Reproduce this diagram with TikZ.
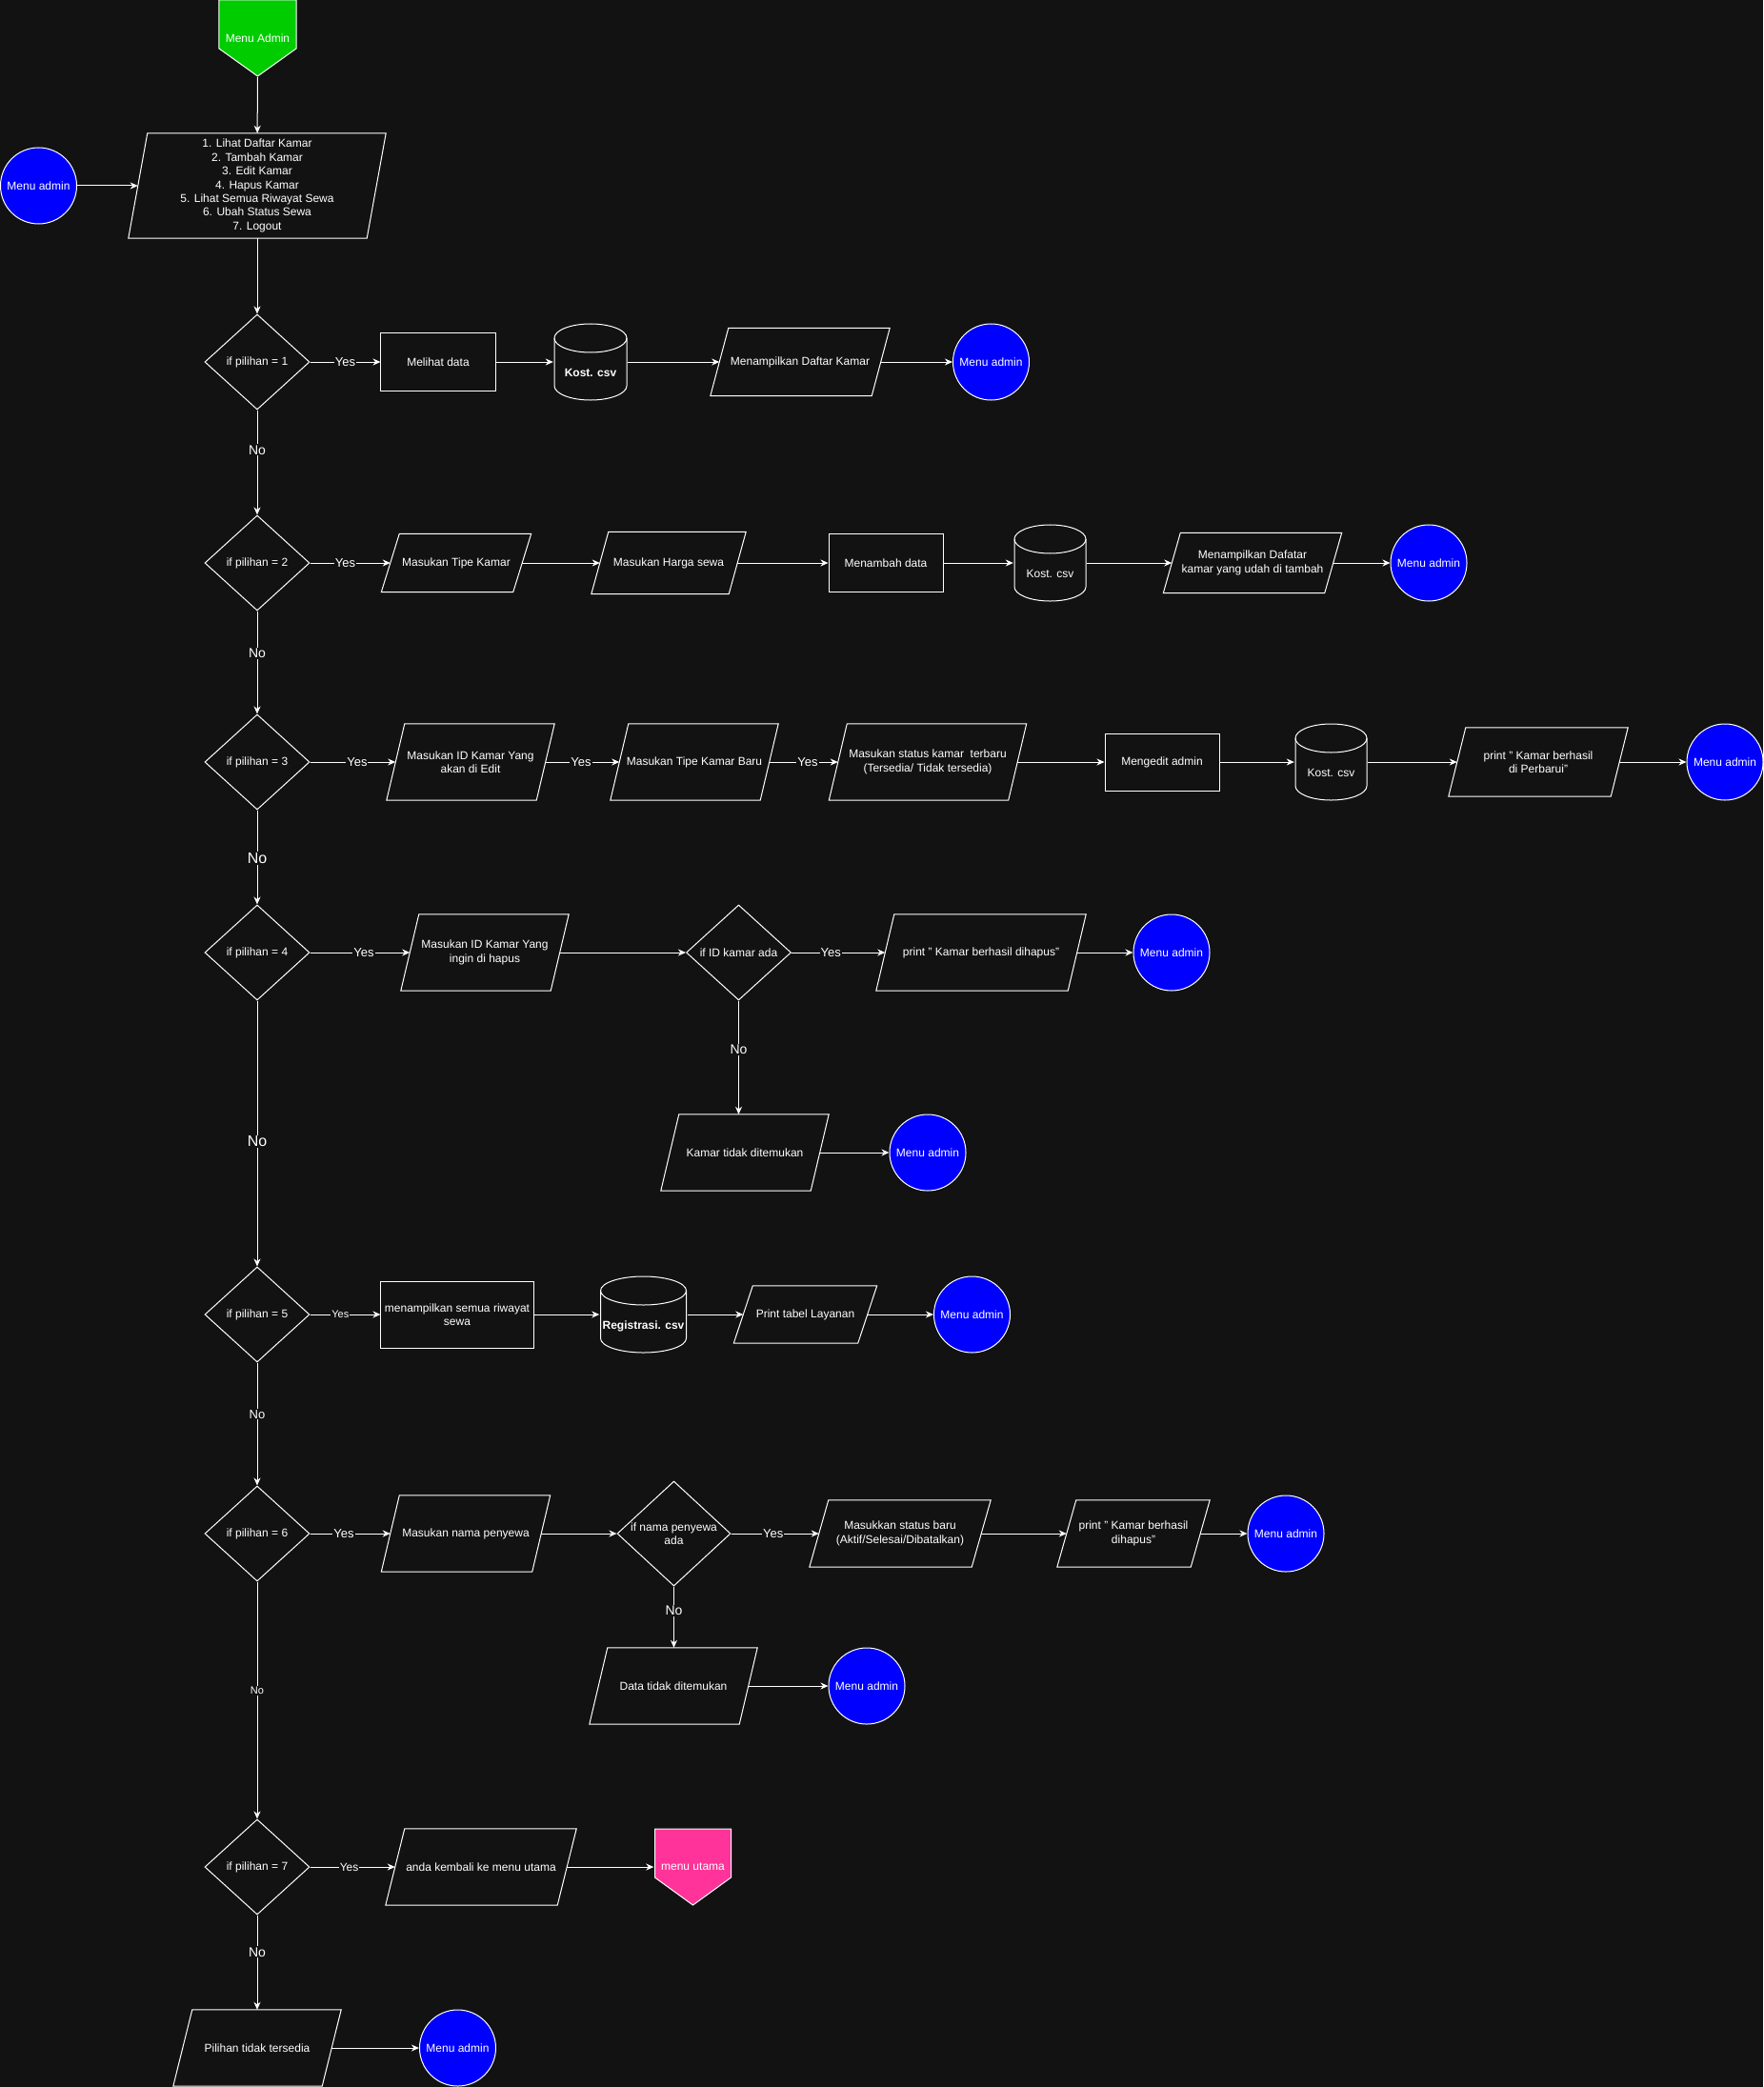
\documentclass[tikz,border=0pt]{standalone}
\usepackage{fontspec}
\setmainfont{Liberation Sans}
\usetikzlibrary{shapes.geometric,arrows.meta}

\definecolor{bgdark}{HTML}{121212}
\definecolor{startgreen}{HTML}{00CC00}
\definecolor{adminblue}{HTML}{0000FF}
\definecolor{utamapink}{HTML}{FF3399}

\tikzset{
  every node/.style={text=white, font=\fontsize{12}{14.4}\selectfont, align=center},
  flowline/.style={draw=white, line width=1pt},
  arr/.style={flowline, -{Stealth[length=8pt,width=7pt,inset=2.5pt]}},
  proc/.style={rectangle, flowline, minimum width=120pt, minimum height=60pt, inner sep=2pt},
  io/.style={rectangle, inner sep=2pt,
    append after command={\pgfextra{\draw [flowline]
      ([xshift=#1/2]\tikzlastnode.north west) -- ([xshift=#1/2]\tikzlastnode.north east)
      -- ([xshift=-#1/2]\tikzlastnode.south east) -- ([xshift=-#1/2]\tikzlastnode.south west) -- cycle;}}},
  io/.default=19pt,
  cond/.style={diamond, flowline, minimum width=110pt, minimum height=100pt, inner sep=0pt, aspect=1.1},
  admin/.style={circle, flowline, fill=adminblue, minimum size=80pt, inner sep=0pt},
  offpage/.style={minimum width=83pt, minimum height=82pt, inner sep=0pt,
    path picture={\draw [flowline, fill=#1]
      ([shift={(1pt,-1pt)}]path picture bounding box.north west)
      -- ([shift={(-1pt,-1pt)}]path picture bounding box.north east)
      -- ([shift={(-1pt,30pt)}]path picture bounding box.south east)
      -- ([shift={(0pt,1pt)}]path picture bounding box.south)
      -- ([shift={(1pt,30pt)}]path picture bounding box.south west) -- cycle;}},
  db/.style={minimum width=#1+2pt, minimum height=82pt, inner sep=0pt, text height=33pt, text depth=3pt,
    path picture={
      \draw [flowline] ([shift={(1pt,-16pt)}]path picture bounding box.north west)
        arc [start angle=180, end angle=0, x radius=#1/2, y radius=15pt]
        -- ++(0pt,-50pt)
        arc [start angle=0, end angle=-180, x radius=#1/2, y radius=15pt] -- cycle;
      \draw [flowline] ([shift={(1pt,-16pt)}]path picture bounding box.north west)
        arc [start angle=180, end angle=360, x radius=#1/2, y radius=15pt];}},
  lbl/.style={fill=bgdark, inner sep=1pt, font=\fontsize{#1}{#1}\selectfont},
  lbl/.default=13
}

\begin{document}
\begin{tikzpicture}
    \def\x{0.035146}
    \def\y{-0.035146}
    \fill [bgdark] (0,0) rectangle (1851*\x, 2191*\y);
    \useasboundingbox (0,0) rectangle (1851*\x, 2191*\y);

    \node [offpage=startgreen] (A0_0) at (270.5*\x, 40*\y) {Menu Admin};
    \node [io=20pt, minimum width=250pt, minimum height=110pt] (A0_1) at (270*\x, 195*\y)
      {1. Lihat Daftar Kamar\\2. Tambah Kamar\\3. Edit Kamar\\4. Hapus Kamar\\5. Lihat Semua Riwayat Sewa\\6. Ubah Status Sewa\\7. Logout};
    \node [admin] (A0_2) at (40.5*\x, 195*\y) {Menu admin};

    \node [cond] (A1_0) at (270*\x, 380*\y) {if pilihan = 1};
    \node [proc] (A1_1) at (460*\x, 380*\y) {Melihat data};
    \node [db=76pt] (A1_2) at (620*\x, 380*\y) {\textbf{Kost. csv}};
    \node [io, minimum width=169pt, minimum height=71pt] (A1_3) at (840*\x, 380*\y) {Menampilkan Daftar Kamar};
    \node [admin] (A1_4) at (1040.5*\x, 380*\y) {Menu admin};

    \node [cond] (A2_0) at (270*\x, 591*\y) {if pilihan = 2};
    \node [io, minimum width=138pt, minimum height=61pt] (A2_1) at (479*\x, 591*\y) {Masukan Tipe Kamar};
    \node [io=18pt, minimum width=144pt, minimum height=65pt] (A2_2) at (702*\x, 591*\y) {Masukan Harga sewa};
    \node [proc] (A2_3) at (930*\x, 591*\y) {Menambah data};
    \node [db=75pt] (A2_4) at (1102.5*\x, 591*\y) {Kost. csv};
    \node [io=18pt, minimum width=169pt, minimum height=63pt] (A2_5) at (1315*\x, 591*\y) {Menampilkan Dafatar\\kamar yang udah di tambah};
    \node [admin] (A2_6) at (1500*\x, 591*\y) {Menu admin};

    \node [cond] (A3_0) at (270*\x, 800*\y) {if pilihan = 3};
    \node [io, minimum width=157pt, minimum height=80pt] (A3_1) at (494*\x, 800*\y) {Masukan ID Kamar Yang\\akan di Edit};
    \node [io, minimum width=157pt, minimum height=80pt] (A3_2) at (729*\x, 800*\y) {Masukan Tipe Kamar Baru};
    \node [io, minimum width=188pt, minimum height=80pt] (A3_3) at (974*\x, 800*\y) {Masukan status kamar\ \ terbaru\\(Tersedia/ Tidak tersedia)};
    \node [proc] (A3_4) at (1220*\x, 800*\y) {Mengedit admin};
    \node [db=75pt] (A3_5) at (1397.5*\x, 800*\y) {Kost. csv};
    \node [io=18pt, minimum width=170pt, minimum height=72pt] (A3_6) at (1615*\x, 800*\y) {print " Kamar berhasil\\di Perbarui"};
    \node [admin] (A3_7) at (1811*\x, 800*\y) {Menu admin};

    \node [cond] (A4_0) at (270*\x, 1000*\y) {if pilihan = 4};
    \node [io, minimum width=157pt, minimum height=80pt] (A4_1) at (509*\x, 1000*\y) {Masukan ID Kamar Yang\\ingin di hapus};
    \node [cond] (A4_2) at (775.5*\x, 1000*\y) {if ID kamar ada};
    \node [io, minimum width=201pt, minimum height=80pt] (A4_3) at (1030*\x, 1000*\y) {print " Kamar berhasil dihapus"};
    \node [admin] (A4_4) at (1230*\x, 1000*\y) {Menu admin};
    \node [io, minimum width=157pt, minimum height=80pt] (B4_1) at (782*\x, 1210*\y) {Kamar tidak ditemukan};
    \node [admin] (B4_2) at (974*\x, 1210*\y) {Menu admin};

    \node [cond] (A5_0) at (270*\x, 1380*\y) {if pilihan = 5};
    \node [proc, minimum width=160pt, minimum height=70pt] (A5_1) at (480*\x, 1380*\y) {menampilkan semua riwayat\\sewa};
    \node [db=90pt] (A5_2) at (675.5*\x, 1380*\y) {\textbf{Registrasi. csv}};
    \node [io=20pt, minimum width=130pt, minimum height=60pt] (A5_3) at (845.5*\x, 1380*\y) {Print tabel Layanan};
    \node [admin] (A5_4) at (1020.5*\x, 1380*\y) {Menu admin};

    \node [cond] (A6_0) at (270*\x, 1610*\y) {if pilihan = 6};
    \node [io, minimum width=158pt, minimum height=80pt] (A6_1) at (489*\x, 1610*\y) {Masukan nama penyewa};
    \node [cond, minimum width=119pt, minimum height=110pt] (A6_2) at (707.5*\x, 1610*\y) {if nama penyewa\\ada};
    \node [io=20pt, minimum width=170pt, minimum height=70pt] (A6_3) at (945*\x, 1610*\y) {Masukkan status baru\\(Aktif/Selesai/Dibatalkan)};
    \node [io=20pt, minimum width=140pt, minimum height=70pt] (A6_4) at (1190*\x, 1610*\y) {print " Kamar berhasil\\dihapus"};
    \node [admin] (A6_5) at (1350*\x, 1610*\y) {Menu admin};
    \node [io, minimum width=157pt, minimum height=80pt] (B6_1) at (707*\x, 1770*\y) {Data tidak ditemukan};
    \node [admin] (B6_2) at (910*\x, 1770*\y) {Menu admin};

    \node [cond] (A7_0) at (270*\x, 1960*\y) {if pilihan = 7};
    \node [io=20pt, minimum width=180pt, minimum height=80pt] (A7_1) at (505*\x, 1960*\y) {anda kembali ke menu utama};
    \node [offpage=utamapink, minimum width=82pt] (A7_2) at (727.5*\x, 1960*\y) {menu utama};
    \node [io=20pt, minimum width=156pt, minimum height=80pt] (B7_1) at (270*\x, 2150*\y) {Pilihan tidak tersedia};
    \node [admin] (B7_2) at (480.5*\x, 2150*\y) {Menu admin};

    \path (A0_0) edge [arr] (A0_1)
          (A0_2) edge [arr] (A0_1)
          (A0_1) edge [arr] (A1_0);

    \path (A1_0) edge [arr] node [lbl, pos=0.5] {Yes} (A1_1)
          (A1_1) edge [arr] (A1_2)
          (A1_2) edge [arr] (A1_3)
          (A1_3) edge [arr] (A1_4)
          (A1_0) edge [arr] node [lbl=14, pos=0.38] {No} (A2_0);

    \path (A2_0) edge [arr] node [lbl, pos=0.44] {Yes} (A2_1)
          (A2_1) edge [arr] (A2_2)
          (A2_2) edge [arr] (A2_3)
          (A2_3) edge [arr] (A2_4)
          (A2_4) edge [arr] (A2_5)
          (A2_5) edge [arr] (A2_6)
          (A2_0) edge [arr] node [lbl=14, pos=0.41] {No} (A3_0);

    \path (A3_0) edge [arr] node [lbl, pos=0.55] {Yes} (A3_1)
          (A3_1) edge [arr] node [lbl, pos=0.48] {Yes} (A3_2)
          (A3_2) edge [arr] node [lbl, pos=0.56] {Yes} (A3_3)
          (A3_3) edge [arr] (A3_4)
          (A3_4) edge [arr] (A3_5)
          (A3_5) edge [arr] (A3_6)
          (A3_6) edge [arr] (A3_7)
          (A3_0) edge [arr] node [lbl=16, pos=0.51] {No} (A4_0);

    \path (A4_0) edge [arr] node [lbl, pos=0.54] {Yes} (A4_1)
          (A4_1) edge [arr] (A4_2)
          (A4_2) edge [arr] node [lbl, pos=0.42] {Yes} (A4_3)
          (A4_3) edge [arr] (A4_4)
          (A4_2) edge [arr] node [lbl=14, pos=0.43] {No} (A4_2 |- B4_1.north)
          (B4_1) edge [arr] (B4_2)
          (A4_0) edge [arr] node [lbl=16, pos=0.53] {No} (A5_0);

    \path (A5_0) edge [arr] node [lbl=11, pos=0.43] {Yes} (A5_1)
          (A5_1) edge [arr] (A5_2)
          (A5_2) edge [arr] (A5_3)
          (A5_3) edge [arr] (A5_4)
          (A5_0) edge [arr] node [lbl, pos=0.42] {No} (A6_0);

    \path (A6_0) edge [arr] node [lbl, pos=0.42] {Yes} (A6_1)
          (A6_1) edge [arr] (A6_2)
          (A6_2) edge [arr] node [lbl, pos=0.48] {Yes} (A6_3)
          (A6_3) edge [arr] (A6_4)
          (A6_4) edge [arr] (A6_5)
          (A6_2) edge [arr] node [lbl=14, pos=0.4] {No} (A6_2 |- B6_1.north)
          (B6_1) edge [arr] (B6_2)
          (A6_0) edge [arr] node [lbl=11, pos=0.46] {No} (A7_0);

    \path (A7_0) edge [arr] node [lbl=12, pos=0.46] {Yes} (A7_1)
          (A7_1) edge [arr] (A7_2)
          (A7_0) edge [arr] node [lbl=14, pos=0.39] {No} (B7_1)
          (B7_1) edge [arr] (B7_2);
\end{tikzpicture}
\end{document}
